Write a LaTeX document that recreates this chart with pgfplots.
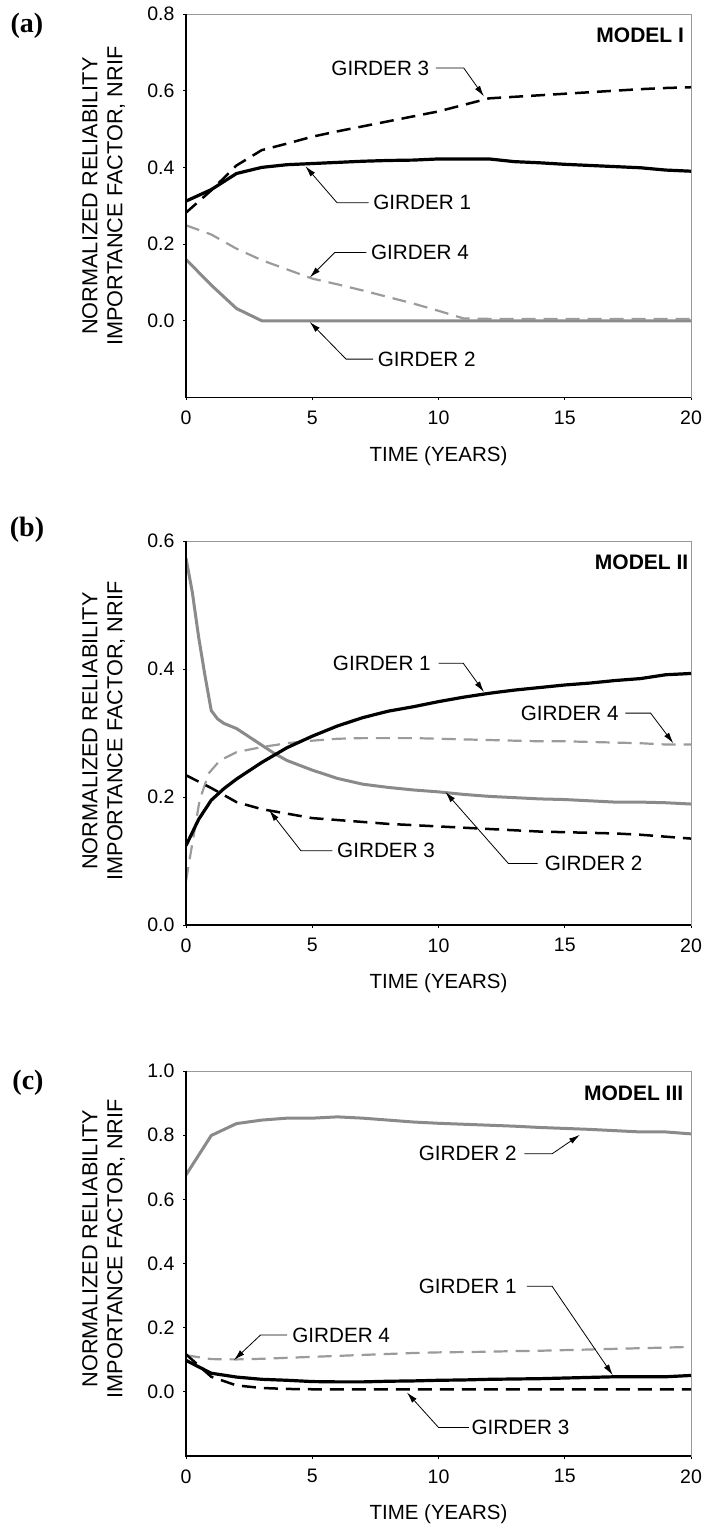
\documentclass[border=0pt]{standalone}
\usepackage{fontspec}
\setmainfont{Liberation Sans}
\newfontfamily\timesfont{Liberation Serif}
\usepackage{pgfplots}
\pgfplotsset{compat=1.18}
\usetikzlibrary{arrows.meta}

\definecolor{gA}{RGB}{138,138,138}
\definecolor{gB}{RGB}{155,155,155}

\tikzset{
  g1/.style={black, line width=3.2pt, line join=round},
  g2/.style={gA, line width=3pt, line join=round},
  g3/.style={black, line width=2.5pt, dash pattern=on 14pt off 8pt},
  g4/.style={gB, line width=2.2pt, dash pattern=on 14pt off 8pt},
  ann/.style={font=\fontsize{20.7}{24}\selectfont, inner sep=0pt},
  mdl/.style={font=\fontsize{21}{24}\selectfont\bfseries, inner sep=0pt, anchor=east},
  arr/.style={black, line width=0.8pt, -{Latex[length=11pt,width=6pt]}},
  frame/.style={black, line width=1.3pt},
  plab/.style={font=\timesfont\bfseries\fontsize{28}{32}\selectfont, inner sep=0pt},
}
\pgfplotsset{
  nrif/.style={
    scale only axis, width=505pt,
    xmin=0, xmax=20, xtick={0,5,...,20},
    axis line style={draw=black!40, line width=0.9pt},
    tick style={black, line width=0.9pt},
    tick align=outside, major tick length=3pt,
    xtick pos=left, ytick pos=left,
    ticklabel style={font=\fontsize{19.5}{22}\selectfont},
    /pgf/number format/assume math mode=true,
    y tick label style={/pgf/number format/.cd, fixed, fixed zerofill, precision=1, /tikz/.cd},
    x tick label style={yshift=-7pt},
    y tick label style={xshift=-5pt},
    xlabel style={font=\fontsize{20.5}{25}\selectfont},
    ylabel style={font=\fontsize{21.7}{25}\selectfont},
    xlabel={TIME (YEARS)},
    xlabel style={at={(axis description cs:0.5,-0.152)}, anchor=center},
    ylabel={NORMALIZED RELIABILITY\\IMPORTANCE FACTOR, NRIF},
    clip mode=individual,
  },
}

\begin{document}
\begin{tikzpicture}
\useasboundingbox (0,0) rectangle (705pt,1525pt);

% ---------------- (a) MODEL I ----------------
\begin{axis}[nrif, at={(186pt,1127.5pt)}, anchor=south west, height=383.5pt,
  ymin=-0.2, ymax=0.8, ytick={0,0.2,0.4,0.6,0.8},
  ylabel style={at={(axis description cs:-0.163,0.525)}, anchor=center, align=center}]
\addplot[g2] coordinates {(0,0.16)(1,0.093)(2,0.032)(3,0)(4,0)(5,0)(6,0)(7,0)(8,0)(9,0)(10,0)(11,0)(12,0)(13,0)(14,0)(15,0)(16,0)(17,0)(18,0)(19,0)(20,0)};
\addplot[g4] coordinates {(0,0.249)(1,0.225)(2,0.188)(3,0.158)(4,0.134)(5,0.11)(6,0.095)(7,0.079)(8,0.062)(9,0.045)(10,0.026)(11,0.006)(12,0.005)(13,0.005)(14,0.005)(15,0.005)(16,0.005)(17,0.005)(18,0.005)(19,0.005)(20,0.005)};
\addplot[g1] coordinates {(0,0.312)(1,0.342)(2,0.384)(3,0.400)(4,0.407)(5,0.410)(6,0.413)(7,0.416)(8,0.418)(9,0.419)(10,0.422)(11,0.422)(12,0.422)(13,0.415)(14,0.412)(15,0.408)(16,0.405)(17,0.402)(18,0.399)(19,0.393)(20,0.390)};
\addplot[g3] coordinates {(0,0.282)(1,0.34)(2,0.405)(3,0.445)(4,0.462)(5,0.48)(6,0.494)(7,0.507)(8,0.52)(9,0.533)(10,0.546)(11,0.563)(12,0.58)(13,0.584)(14,0.588)(15,0.592)(16,0.596)(17,0.600)(18,0.604)(19,0.607)(20,0.609)};
\draw[frame] (rel axis cs:0,1) -- (rel axis cs:0,0) -- (rel axis cs:1,0);
\node[mdl] at (axis cs:19.73,0.745) {MODEL I};
\node[ann, anchor=east] at (axis cs:9.64,0.659) {GIRDER 3};
\draw[arr] (axis cs:9.9,0.659) -- (axis cs:11.0,0.659) -- (axis cs:11.8,0.585);
\node[ann, anchor=west] at (axis cs:7.41,0.308) {GIRDER 1};
\draw[arr] (axis cs:7.23,0.308) -- (axis cs:5.98,0.308) -- (axis cs:4.73,0.403);
\node[ann, anchor=west] at (axis cs:7.32,0.178) {GIRDER 4};
\draw[arr] (axis cs:7.14,0.178) -- (axis cs:5.89,0.178) -- (axis cs:4.9,0.113);
\node[ann, anchor=west] at (axis cs:7.59,-0.1) {GIRDER 2};
\draw[arr] (axis cs:7.41,-0.1) -- (axis cs:6.34,-0.1) -- (axis cs:4.9,-0.003);
\end{axis}
\node[plab] at (27pt,1499.5pt) {(a)};

% ---------------- (b) MODEL II ----------------
\begin{axis}[nrif, at={(186pt,600pt)}, anchor=south west, height=384pt,
  ymin=0, ymax=0.6, ytick={0,0.2,0.4,0.6},
  ylabel style={at={(axis description cs:-0.163,0.505)}, anchor=center, align=center}]
\addplot[g2] coordinates {(0,0.573)(0.25,0.52)(0.5,0.45)(0.75,0.39)(1,0.335)(1.25,0.322)(1.5,0.315)(2,0.307)(2.5,0.294)(3,0.281)(3.5,0.268)(4,0.257)(5,0.242)(6,0.229)(7,0.22)(8,0.215)(9,0.211)(10,0.208)(11,0.204)(12,0.201)(13,0.199)(14,0.197)(15,0.196)(16,0.194)(17,0.192)(18,0.192)(19,0.191)(20,0.189)};
\addplot[g4] coordinates {(0,0.069)(0.27,0.132)(0.54,0.195)(0.9,0.237)(1.34,0.257)(2,0.27)(3,0.278)(4,0.284)(5,0.288)(6,0.291)(7,0.292)(8,0.292)(9,0.292)(10,0.291)(11,0.29)(12,0.289)(13,0.288)(14,0.287)(15,0.287)(16,0.286)(17,0.285)(18,0.284)(19,0.282)(20,0.282)};
\addplot[g1] coordinates {(0,0.124)(0.5,0.165)(1,0.195)(1.5,0.213)(2,0.228)(3,0.254)(4,0.277)(5,0.295)(6,0.311)(7,0.324)(8,0.334)(9,0.341)(10,0.349)(11,0.356)(12,0.362)(13,0.367)(14,0.371)(15,0.375)(16,0.378)(17,0.382)(18,0.385)(19,0.391)(20,0.393)};
\addplot[g3] coordinates {(0,0.234)(1,0.214)(2,0.192)(3,0.181)(4,0.174)(5,0.167)(6,0.164)(7,0.161)(8,0.158)(9,0.156)(10,0.154)(11,0.152)(12,0.150)(13,0.148)(14,0.146)(15,0.145)(16,0.144)(17,0.143)(18,0.141)(19,0.138)(20,0.135)};
\draw[frame] (rel axis cs:0,1) -- (rel axis cs:0,0) -- (rel axis cs:1,0);
\node[mdl] at (axis cs:19.9,0.566) {MODEL II};
\node[ann, anchor=east] at (axis cs:9.7,0.409) {GIRDER 1};
\draw[arr] (axis cs:10.0,0.409) -- (axis cs:10.98,0.409) -- (axis cs:11.8,0.364);
\node[ann, anchor=east] at (axis cs:17.14,0.331) {GIRDER 4};
\draw[arr] (axis cs:17.4,0.331) -- (axis cs:18.4,0.331) -- (axis cs:19.3,0.284);
\node[ann, anchor=west] at (axis cs:5.98,0.116) {GIRDER 3};
\draw[arr] (axis cs:5.8,0.116) -- (axis cs:4.55,0.116) -- (axis cs:3.3,0.179);
\node[ann, anchor=west] at (axis cs:14.2,0.096) {GIRDER 2};
\draw[arr] (axis cs:13.93,0.096) -- (axis cs:12.77,0.096) -- (axis cs:10.27,0.208);
\end{axis}
\node[plab] at (27pt,995pt) {(b)};

% ---------------- (c) MODEL III ----------------
\begin{axis}[nrif, at={(186pt,69pt)}, anchor=south west, height=385pt,
  ymin=-0.2, ymax=1.0, ytick={0,0.2,0.4,0.6,0.8,1.0},
  ylabel style={at={(axis description cs:-0.163,0.538)}, anchor=center, align=center}]
\addplot[g2] coordinates {(0,0.676)(1,0.799)(2,0.836)(3,0.847)(4,0.853)(5,0.853)(6,0.857)(7,0.853)(8,0.847)(9,0.841)(10,0.837)(11,0.834)(12,0.831)(13,0.828)(14,0.824)(15,0.821)(16,0.818)(17,0.814)(18,0.81)(19,0.81)(20,0.804)};
\addplot[g4] coordinates {(0,0.114)(1,0.102)(2,0.101)(3,0.103)(4,0.106)(5,0.109)(6,0.112)(7,0.115)(8,0.118)(9,0.121)(10,0.123)(11,0.124)(12,0.125)(13,0.127)(14,0.128)(15,0.130)(16,0.132)(17,0.134)(18,0.136)(19,0.138)(20,0.140)};
\addplot[g1] coordinates {(0,0.098)(1,0.058)(2,0.046)(3,0.039)(4,0.036)(5,0.032)(6,0.031)(7,0.031)(8,0.033)(9,0.034)(10,0.036)(11,0.037)(12,0.039)(13,0.040)(14,0.041)(15,0.043)(16,0.045)(17,0.047)(18,0.047)(19,0.047)(20,0.051)};
\addplot[g3] coordinates {(0,0.117)(1,0.047)(2,0.020)(3,0.012)(4,0.009)(5,0.008)(6,0.008)(7,0.008)(8,0.008)(9,0.008)(10,0.008)(11,0.008)(12,0.008)(13,0.008)(14,0.008)(15,0.008)(16,0.008)(17,0.008)(18,0.008)(19,0.008)(20,0.008)};
\draw[frame] (rel axis cs:0,1) -- (rel axis cs:0,0) -- (rel axis cs:1,0);
\node[mdl] at (axis cs:19.7,0.932) {MODEL III};
\node[ann, anchor=east] at (axis cs:13.1,0.742) {GIRDER 2};
\draw[arr] (axis cs:13.4,0.742) -- (axis cs:14.5,0.742) -- (axis cs:15.6,0.801);
\node[ann, anchor=east] at (axis cs:13.1,0.329) {GIRDER 1};
\draw[arr] (axis cs:13.5,0.329) -- (axis cs:14.5,0.329) -- (axis cs:16.9,0.052);
\node[ann, anchor=west] at (axis cs:4.2,0.177) {GIRDER 4};
\draw[arr] (axis cs:4.0,0.177) -- (axis cs:2.95,0.177) -- (axis cs:1.9,0.099);
\node[ann, anchor=west] at (axis cs:11.3,-0.111) {GIRDER 3};
\draw[arr] (axis cs:11.2,-0.111) -- (axis cs:10.0,-0.111) -- (axis cs:8.75,-0.002);
\end{axis}
\node[plab] at (28pt,1083pt) {};
\node[plab] at (28pt,442pt) {(c)};
\end{tikzpicture}
\end{document}
